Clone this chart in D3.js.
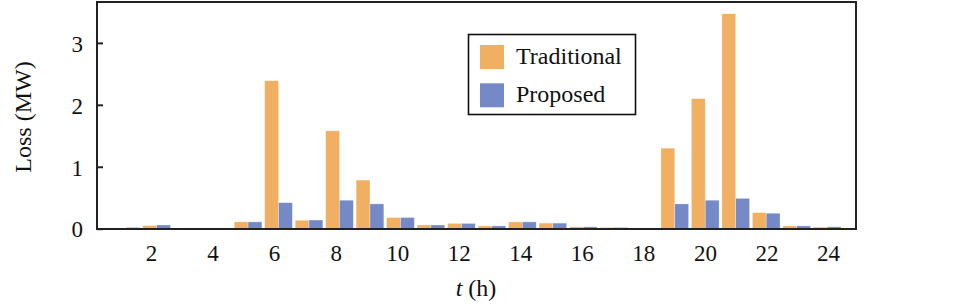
<!DOCTYPE html>
<html>
<head>
<meta charset="utf-8">
<script src="https://cdn.jsdelivr.net/npm/d3@7"></script>
<style>
  html, body { margin: 0; padding: 0; background: #fff; }
  svg { display: block; }
  text { font-family: "Liberation Serif", "Times New Roman", serif; fill: #111; }
</style>
</head>
<body>
<svg id="chart" width="961" height="306"></svg>
<script>
const hours = d3.range(1, 25);
const seriesNames = ["Traditional", "Proposed"];
const traditional = [0.01, 0.05, 0.01, 0.01, 0.11, 2.39, 0.135, 1.58, 0.785, 0.18, 0.06, 0.085,
                     0.045, 0.11, 0.09, 0.03, 0.02, 0.01, 1.30, 2.10, 3.47, 0.26, 0.045, 0.025];
const proposed    = [0.02, 0.06, 0.01, 0.01, 0.11, 0.42, 0.14, 0.46, 0.40, 0.18, 0.06, 0.085,
                     0.045, 0.11, 0.09, 0.03, 0.02, 0.01, 0.40, 0.46, 0.49, 0.25, 0.045, 0.03];
const xTickValues = [2, 4, 6, 8, 10, 12, 14, 16, 18, 20, 22, 24];
const yTickValues = [0, 1, 2, 3];
const colors = ["#F1B061", "#7489C6"];

const svg = d3.select("#chart");
const plot = { left: 97, right: 856, top: 2, bottom: 229 };

const y = d3.scaleLinear().domain([0, 3.66]).range([228.7, plot.top]);
const x0 = d3.scaleBand().domain(hours).range([110.9, 842.4]).padding(0);
const x1 = d3.scaleBand().domain(seriesNames).range([1.4, x0.bandwidth() - 1.4]).padding(0);
const xTick = d3.scaleLinear().domain([2, 24]).range([151, 828]);

const data = [traditional, proposed];

// bars
const groups = svg.append("g").selectAll("g")
  .data(hours)
  .join("g")
  .attr("transform", d => `translate(${x0(d)},0)`);

groups.selectAll("rect")
  .data((h, i) => seriesNames.map((s, k) => ({ s, k, v: data[k][i] })))
  .join("rect")
  .attr("x", d => x1(d.s))
  .attr("width", x1.bandwidth())
  .attr("y", d => y(d.v))
  .attr("height", d => y(0) - y(d.v))
  .attr("fill", d => colors[d.k])
  .attr("stroke", "#fff")
  .attr("stroke-opacity", 0.5)
  .attr("stroke-width", 0.6);

// frame
svg.append("rect")
  .attr("x", plot.left).attr("y", plot.top)
  .attr("width", plot.right - plot.left).attr("height", plot.bottom - plot.top)
  .attr("fill", "none").attr("stroke", "#222").attr("stroke-width", 2);

// y axis ticks (inward)
const yAxis = d3.axisLeft(y).tickValues(yTickValues).tickSizeInner(-6).tickSizeOuter(0).tickPadding(14).tickFormat(d3.format("d"));
const yg = svg.append("g").attr("transform", `translate(${plot.left},0)`).call(yAxis);
yg.select(".domain").remove();
yg.selectAll(".tick line").attr("stroke", "#222").attr("stroke-width", 2);
yg.selectAll(".tick text").attr("font-size", 23).attr("font-family", "Liberation Serif").attr("fill", "#111").attr("dy", "0.36em");

// x axis labels
const xAxis = d3.axisBottom(xTick).tickValues(xTickValues).tickSize(0).tickPadding(16).tickFormat(d3.format("d"));
const xg = svg.append("g").attr("transform", `translate(0,${plot.bottom})`).call(xAxis);
xg.select(".domain").remove();
xg.selectAll(".tick text").attr("font-size", 23).attr("font-family", "Liberation Serif").attr("fill", "#111");

// axis titles
const xt = svg.append("text").attr("x", 476).attr("y", 296).attr("text-anchor", "middle").attr("font-size", 24);
xt.append("tspan").attr("font-style", "italic").text("t");
xt.append("tspan").text(" (h)");

svg.append("text")
  .attr("transform", "translate(31,117) rotate(-90)")
  .attr("text-anchor", "middle").attr("font-size", 24)
  .text("Loss (MW)");

// legend
const lg = svg.append("g");
lg.append("rect").attr("x", 468.5).attr("y", 34.5).attr("width", 167).attr("height", 80)
  .attr("fill", "#fff").attr("stroke", "#111").attr("stroke-width", 1.6);
seriesNames.forEach((s, k) => {
  lg.append("rect").attr("x", 480).attr("y", 45 + k * 38.3).attr("width", 24).attr("height", 24).attr("fill", colors[k]);
  lg.append("text").attr("x", 516).attr("y", 64 + k * 38.3).attr("font-size", 24).text(s);
});
</script>
</body>
</html>
